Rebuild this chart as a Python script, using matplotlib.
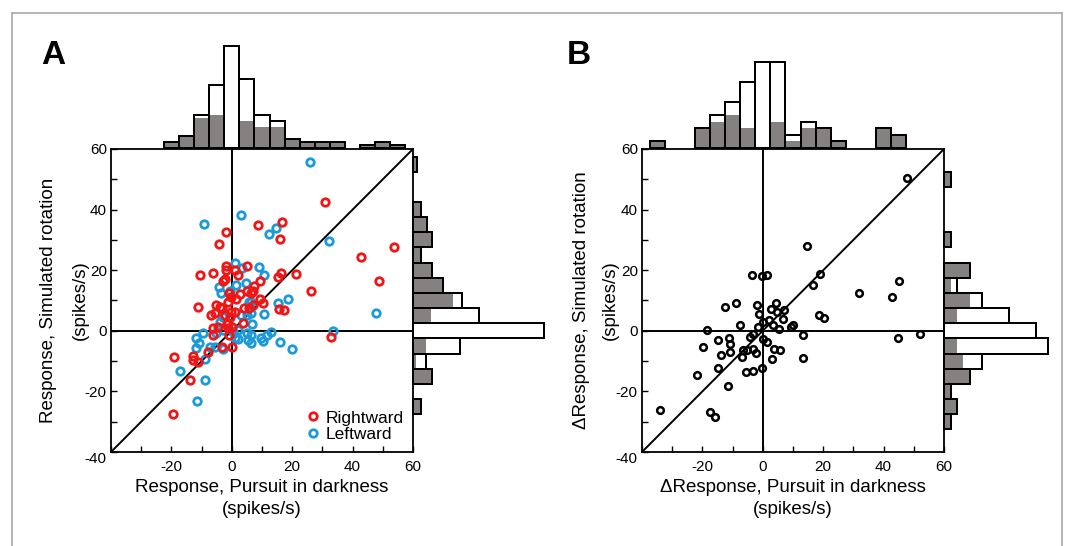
import numpy as np
import matplotlib
matplotlib.use("Agg")
import matplotlib.pyplot as plt

plt.rcParams['font.family'] = ['Liberation Sans', 'DejaVu Sans']

# ---- panel A: scatter (spikes/s) ----
a_right_x = [30.9, 16.5, 8.6, 15.8, -1.9, -4.1, 53.6, 42.8, 48.8, 26.2, 21.4, 16.2, 15.3,
             15.6, 17.4, -10.4, -6.3, -11.3, -1.9, -1.8, 1.0, 1.9, 5.0, -2.9, -2.3, 9.3,
             7.3, 4.9, 6.5, 7.1, 2.6, 1.5, -1.1, -0.3, -0.9, 9.3, 10.4, 4.0, 5.7, 7.1,
             -5.1, -3.2, -4.0, -5.6, -7.0, -2.1, -0.1, 1.0, -0.7, -1.2, 3.7, -6.2, -4.5,
             -1.6, 0.0, -1.2, -6.2, -1.0, -3.4, 0.0, -7.9, -19.2, -13.0, -12.8, -11.2,
             -14.0, -19.4, 33.0]
a_right_y = [42.5, 35.8, 34.8, 30.3, 32.5, 28.6, 27.5, 24.3, 16.5, 13.2, 18.7, 19.2, 17.9,
             7.2, 7.0, 18.5, 19.0, 7.8, 21.5, 20.1, 20.1, 18.5, 21.5, 16.6, 17.0, 16.6,
             14.8, 13.0, 12.4, 13.0, 12.2, 10.4, 9.6, 11.3, 12.4, 10.4, 9.1, 7.4, 7.6, 8.5,
             8.5, 7.6, 8.0, 6.0, 5.2, 5.2, 6.3, 6.3, 4.7, 2.5, 2.5, 0.8, 1.4,
             2.3, 1.4, 0.8, -1.4, -1.4, -5.3, -5.3, -7.1, -8.8, -8.2, -9.7, -10.4,
             -16.3, -27.4, -2.0]
a_left_x = [25.8, -9.3, 2.9, 12.4, 14.7, 32.3, 47.7, 18.6, 15.3, 10.7, 8.9, 10.7, 3.5,
            1.0, 1.5, 4.6, -4.2, -3.6, -0.7, 5.7, 6.5, 6.8, 3.2, 4.9, 6.5, -2.9, -4.0,
            33.5, 2.1, -2.9, 0.4, 1.0, 2.1, 4.9, 6.5, 5.4, 6.2, 9.8, 11.7, 13.1, 10.4,
            15.8, 19.8, -11.7, -9.5, -5.1, -10.8, -11.8, -7.3, -5.6, -2.9, -8.9, -17.1,
            -8.8, -11.4]
a_left_y = [55.7, 35.3, 38.3, 31.8, 33.8, 29.8, 5.9, 10.4, 9.1, 5.7, 20.9, 18.5, 20.7,
            22.3, 15.2, 15.7, 14.4, 12.6, 13.0, 9.4, 9.6, 2.3, 5.2, 5.2, 5.8, 4.7, 3.0,
            -0.1, 0.3, 0.3, -0.3, -2.5, -2.8, -0.8, -1.4, -3.0, -4.1, -2.5, -1.4, -0.3, -3.3,
            -3.8, -6.1, -2.5, -0.8, -0.6, -4.1, -5.8, -5.5, -5.5, -6.0, -9.3, -13.2,
            -16.3, -23.1]

# panel A histograms (bin centres, totals, grey part)
a_top_bins = [-20, -15, -10, -5, 0, 5, 10, 15, 20, 25, 30, 35, 45, 50, 55]
a_top_total = [2, 4, 11, 21, 34, 23, 11, 9, 3, 2, 2, 2, 1, 2, 1]
a_top_gray = [2, 4, 10, 11, 0, 9, 7, 7, 3, 2, 2, 2, 1, 2, 1]
a_side_bins = [55, 40, 35, 30, 25, 20, 15, 10, 5, 0, -5, -10, -15, -25]
a_side_total = [1.4, 2.8, 4.6, 6.2, 2.8, 6.2, 10, 16.3, 22, 43.7, 15.7, 4.3, 6.3, 2.8]
a_side_gray = [1.4, 2.8, 4.6, 6.2, 2.8, 6.2, 10, 13.3, 6, 0, 4.3, 1, 6.3, 2.8]

# ---- panel B: scatter (delta response) ----
b_x = [47.8, 14.7, 18.9, 16.5, 45.2, 31.8, 42.7, -3.5, -0.1, 1.4, -12.5, -8.8, -1.9, -1.3,
       -7.7, -18.5, 4.4, 2.6, 4.6, 6.9, 6.7, 0.2, 1.9, -1.5, 3.5, 5.3, 18.6, 20.3, 9.4, 9.9,
       13.4, 52.2, 44.7, -15.0, -11.1, -4.2, -3.1, 0.2, 1.3, 3.7, 5.7, 3.0, 13.3, -19.8,
       -11.0, -13.8, -10.8, -14.7, -21.8, -11.4, -34.2, -17.4, -15.7, -6.9, -6.6, -5.1,
       -3.1, -2.3, -5.5, -3.2, -0.1]
b_y = [50.4, 28.1, 18.8, 15.0, 16.5, 12.5, 11.0, 18.4, 18.2, 18.4, 7.7, 9.3, 8.6, 5.7,
       2.0, 0.3, 9.3, 7.1, 6.3, 6.8, 3.9, 3.0, 3.5, 1.3, 1.9, 0.5, 5.2, 4.1, 1.4, 1.8,
       -1.4, -1.2, -2.5, -3.1, -2.5, -2.0, -0.9, -2.7, -3.8, -6.0, -6.3, -9.4, -8.9, -5.3,
       -4.4, -8.0, -7.1, -12.2, -14.6, -18.1, -26.3, -26.9, -28.3, -8.6, -6.3, -6.3,
       -6.0, -7.4, -13.6, -13.4, -12.4]

b_top_bins = [-35, -20, -15, -10, -5, 0, 5, 10, 15, 20, 25, 40, 45]
b_top_total = [1, 3, 5, 7, 10, 13, 13, 2, 4, 3, 1, 3, 2]
b_top_gray = [1, 3, 4, 5, 3, 0, 4, 1, 3, 3, 1, 3, 2]
b_side_bins = [50, 30, 20, 15, 10, 5, 0, -5, -10, -15, -20, -25, -30]
b_side_total = [1, 1, 4, 2, 5.8, 9.8, 13.9, 15.8, 5.8, 4, 1, 2, 1]
b_side_gray = [1, 1, 4, 1, 3.9, 2, 0, 2, 2.9, 4, 1, 2, 1]

RED = '#f01616'
BLUE = '#1a9ad8'
GRAY = '#848180'
W, H = 1073, 546


def box(x0, y0, x1, y1):
    return [x0 / W, 1 - y1 / H, (x1 - x0) / W, (y1 - y0) / H]


def fpos(x, y):
    return x / W, 1 - y / H


def setup_main(ax):
    ax.set_xlim(-40, 60)
    ax.set_ylim(-40, 60)
    ticks = np.arange(-40, 61, 10)
    ax.set_xticks(ticks)
    ax.set_xticklabels(['' if (t % 20 or t == -40) else str(t) for t in ticks])
    ax.set_yticks(ticks)
    ax.set_yticklabels(['' if t % 20 else str(t) for t in ticks])
    ax.tick_params(direction='in', length=4, width=1, labelsize=11)
    ax.tick_params(axis='x', pad=6)
    ax.tick_params(axis='y', pad=3)
    ax.get_yticklabels()[0].set_va('top')
    for s in ax.spines.values():
        s.set_linewidth(1.3)
    ax.axhline(0, color='black', lw=1.4, zorder=1)
    ax.axvline(0, color='black', lw=1.4, zorder=1)
    ax.axline((0, 0), slope=1, color='black', lw=1.4, zorder=1)


def top_hist(ax, bins, total, gray, ymax):
    ax.bar(bins, total, width=5, color='white', edgecolor='black', lw=1.4, clip_on=False)
    ax.bar(bins, gray, width=5, color=GRAY, edgecolor='none', clip_on=False)
    ax.bar(bins, total, width=5, fill=False, edgecolor='black', lw=1.4, clip_on=False)
    ax.set_xlim(-40, 60)
    ax.set_ylim(0, ymax)
    ax.axis('off')


def side_hist(ax, bins, total, gray, xmax):
    ax.barh(bins, total, height=5, color='white', edgecolor='black', lw=1.4, clip_on=False)
    ax.barh(bins, gray, height=5, color=GRAY, edgecolor='none', clip_on=False)
    ax.barh(bins, total, height=5, fill=False, edgecolor='black', lw=1.4, clip_on=False)
    ax.set_ylim(-40, 60)
    ax.set_xlim(0, xmax)
    ax.axis('off')


fig = plt.figure(figsize=(W / 100, H / 100), dpi=100)

# panel A
axA = fig.add_axes(box(111, 149, 413, 452))
setup_main(axA)
axA.plot(a_left_x, a_left_y, 'o', ms=5.4, mfc='none', mec=BLUE, mew=2.0, label='Leftward', zorder=3)
axA.plot(a_right_x, a_right_y, 'o', ms=5.4, mfc='none', mec=RED, mew=2.0, label='Rightward', zorder=3)
h, l = axA.get_legend_handles_labels()
axA.legend(h[::-1], l[::-1], loc='lower right', frameon=False, fontsize=12.5,
           handletextpad=0.15, labelspacing=0.1, handlelength=1.1, borderaxespad=0.15)

top_hist(fig.add_axes(box(111, 28, 413, 148)), a_top_bins, a_top_total, a_top_gray, 40)
side_hist(fig.add_axes(box(413, 149, 563, 452)), a_side_bins, a_side_total, a_side_gray, 50)

# panel B
axB = fig.add_axes(box(642, 149, 944, 452))
setup_main(axB)
axB.plot(b_x, b_y, 'o', ms=4.8, mfc='none', mec='black', mew=1.8, zorder=3)
top_hist(fig.add_axes(box(642, 28, 944, 148)), b_top_bins, b_top_total, b_top_gray, 120 / 6.6)
side_hist(fig.add_axes(box(944, 149, 1064, 452)), b_side_bins, b_side_total, b_side_gray, 120 / 6.6)

# axis labels
lab = dict(fontsize=13.5, ha='center', va='center')
fig.text(*fpos(262, 487), 'Response, Pursuit in darkness', **lab)
fig.text(*fpos(262, 510), '(spikes/s)', **lab)
fig.text(*fpos(49, 300), 'Response, Simulated rotation', rotation=90, **lab)
fig.text(*fpos(80, 300), '(spikes/s)', rotation=90, **lab)
fig.text(*fpos(793, 487), '\u0394Response, Pursuit in darkness', **lab)
fig.text(*fpos(793, 510), '(spikes/s)', **lab)
fig.text(*fpos(582, 300), '\u0394Response, Simulated rotation', rotation=90, **lab)
fig.text(*fpos(610, 300), '(spikes/s)', rotation=90, **lab)

fig.text(*fpos(53, 56), 'A', fontsize=24, fontweight='bold', ha='center', va='center')
fig.text(*fpos(579, 56), 'B', fontsize=24, fontweight='bold', ha='center', va='center')

# thin grey frame around the figure
frame = dict(color='#a8a8a8', lw=1.2, transform=fig.transFigure)
fig.add_artist(plt.Line2D([12 / W, 1062 / W], [1 - 13 / H, 1 - 13 / H], **frame))
fig.add_artist(plt.Line2D([12 / W, 12 / W], [0, 1 - 13 / H], **frame))
fig.add_artist(plt.Line2D([1062 / W, 1062 / W], [0, 1 - 13 / H], **frame))

fig.savefig('out.png', dpi=100)
